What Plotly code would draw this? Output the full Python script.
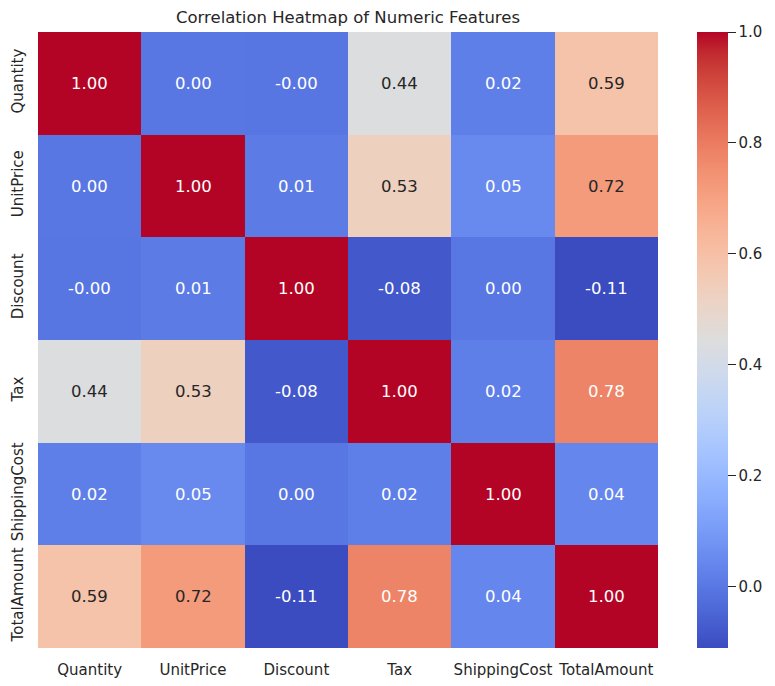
import plotly.graph_objects as go

features = ["Quantity", "UnitPrice", "Discount", "Tax", "ShippingCost", "TotalAmount"]

row_quantity = [1.00, 0.00, -0.003, 0.44, 0.02, 0.59]
row_unitprice = [0.00, 1.00, 0.01, 0.53, 0.05, 0.72]
row_discount = [-0.003, 0.01, 1.00, -0.08, 0.00, -0.11]
row_tax = [0.44, 0.53, -0.08, 1.00, 0.02, 0.78]
row_shipping = [0.02, 0.05, 0.00, 0.02, 1.00, 0.04]
row_total = [0.59, 0.72, -0.11, 0.78, 0.04, 1.00]

corr = [row_quantity, row_unitprice, row_discount, row_tax, row_shipping, row_total]

cbar_ticks = [0.0, 0.2, 0.4, 0.6, 0.8, 1.0]

# matplotlib "coolwarm" (Moreland) sampled
cw = [
    (0.0, (59, 76, 192)), (0.03125, (68, 90, 204)), (0.0625, (77, 104, 215)),
    (0.09375, (87, 117, 225)), (0.125, (98, 130, 234)), (0.15625, (108, 142, 241)),
    (0.1875, (119, 154, 247)), (0.21875, (130, 165, 251)), (0.25, (141, 176, 254)),
    (0.28125, (152, 185, 255)), (0.3125, (163, 194, 255)), (0.34375, (174, 201, 253)),
    (0.375, (184, 208, 249)), (0.40625, (194, 213, 244)), (0.4375, (204, 217, 238)),
    (0.46875, (213, 219, 230)), (0.5, (221, 221, 221)), (0.53125, (229, 216, 209)),
    (0.5625, (236, 211, 197)), (0.59375, (241, 204, 184)), (0.625, (245, 196, 172)),
    (0.65625, (247, 187, 160)), (0.6875, (247, 177, 148)), (0.71875, (247, 166, 135)),
    (0.75, (244, 154, 123)), (0.78125, (241, 141, 111)), (0.8125, (236, 127, 99)),
    (0.84375, (229, 112, 88)), (0.875, (222, 96, 77)), (0.90625, (213, 80, 66)),
    (0.9375, (203, 62, 56)), (0.96875, (192, 40, 47)), (1.0, (180, 4, 38)),
]
colorscale = [[s, "rgb(%d,%d,%d)" % c] for s, c in cw]

zmin = min(min(r) for r in corr)
zmax = max(max(r) for r in corr)


def cmap(v):
    s = (v - zmin) / (zmax - zmin)
    s = max(0.0, min(1.0, s))
    for i in range(len(cw) - 1):
        s0, c0 = cw[i]
        s1, c1 = cw[i + 1]
        if s0 <= s <= s1:
            t = (s - s0) / (s1 - s0) if s1 > s0 else 0
            return tuple(c0[k] + t * (c1[k] - c0[k]) for k in range(3))
    return cw[-1][1]


def lum(rgb):
    out = []
    for c in rgb:
        c = c / 255.0
        out.append(c / 12.92 if c <= 0.03928 else ((c + 0.055) / 1.055) ** 2.4)
    return 0.2126 * out[0] + 0.7152 * out[1] + 0.0722 * out[2]


FONT = "DejaVu Sans"
DARK = "#262626"

fig = go.Figure(
    go.Heatmap(
        z=corr,
        x=features,
        y=features,
        zmin=zmin,
        zmax=zmax,
        colorscale=colorscale,
        hoverongaps=False,
        colorbar=dict(
            thickness=31,
            len=1,
            lenmode="fraction",
            y=0.5,
            yanchor="middle",
            x=1.0629,
            xanchor="left",
            xpad=0,
            ypad=0,
            outlinewidth=0,
            tickvals=cbar_ticks,
            ticktext=["%.1f" % t for t in cbar_ticks],
            ticks="outside",
            ticklen=8,
            tickwidth=1.25,
            tickcolor=DARK,
            tickfont=dict(family=FONT, size=15, color=DARK),
        ),
    )
)

annotations = []
for i, rname in enumerate(features):
    for j, cname in enumerate(features):
        v = corr[i][j]
        color = DARK if lum(cmap(v)) > 0.408 else "white"
        annotations.append(
            dict(
                x=cname,
                y=rname,
                xref="x",
                yref="y",
                text="%.2f" % v,
                showarrow=False,
                font=dict(family=FONT, size=16.5, color=color),
            )
        )

fig.update_layout(
    width=775,
    height=686,
    margin=dict(l=38, r=117, t=32, b=38),
    paper_bgcolor="white",
    plot_bgcolor="white",
    font=dict(family=FONT, color=DARK),
    title=dict(
        text="Correlation Heatmap of Numeric Features",
        x=0.5,
        xref="paper",
        xanchor="center",
        y=(686 - 17) / 686,
        yref="container",
        yanchor="middle",
        font=dict(family=FONT, size=16.5, color=DARK),
    ),
    annotations=annotations,
    xaxis=dict(
        showgrid=False,
        zeroline=False,
        showline=False,
        automargin=False,
        ticks="outside",
        ticklen=8,
        tickcolor="rgba(0,0,0,0)",
        tickfont=dict(family=FONT, size=15, color=DARK),
        tickangle=0,
    ),
    yaxis=dict(
        autorange="reversed",
        showgrid=False,
        zeroline=False,
        showline=False,
        automargin=False,
        ticks="outside",
        ticklen=8,
        tickcolor="rgba(0,0,0,0)",
        tickfont=dict(family=FONT, size=15, color=DARK),
        tickangle=-90,
    ),
)

fig.write_html(
    "out.html",
    config={"displayModeBar": False},
    post_script="document.body.style.margin='0px';document.body.style.overflow='hidden';",
)
